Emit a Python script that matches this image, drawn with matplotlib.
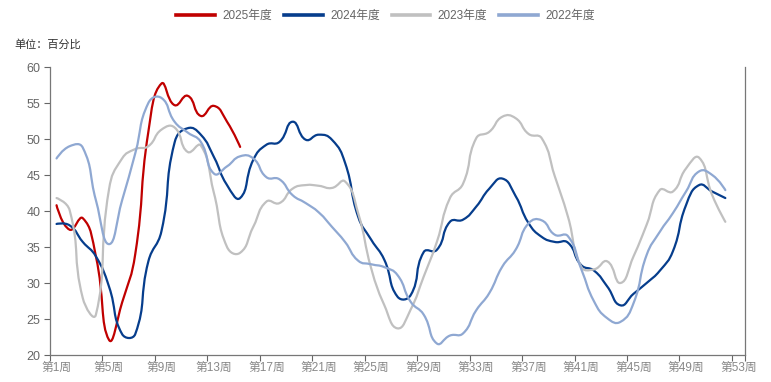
import numpy as np
import matplotlib.pyplot as plt
from matplotlib.path import Path
from matplotlib.patches import PathPatch
from matplotlib.lines import Line2D

FONTS = ["Liberation Sans", "Noto Sans CJK SC", "DejaVu Sans"]
plt.rcParams["font.family"] = FONTS

# semaines 1..53 (catégories)
weeks = [f"第{i}周" for i in range(1, 54)]

y2025 = [40.8, 37.4, 39.0, 33.7, 22.1, 27.3, 34.0, 51.0, 57.7, 54.7,
         56.0, 53.2, 54.6, 52.4, 48.9]
y2024 = [38.2, 38.0, 35.7, 33.7, 29.5, 22.9, 22.9, 33.0, 37.2, 49.5,
         51.5, 50.6, 47.5, 43.6, 41.8, 47.1, 49.2, 49.6, 52.4, 49.9,
         50.6, 49.9, 46.7, 39.2, 36.0, 33.2, 28.1, 28.3, 34.3, 34.6,
         38.5, 38.8, 40.6, 43.1, 44.5, 42.1, 38.3, 36.4, 35.7, 35.6,
         32.5, 31.7, 29.5, 26.9, 28.5, 30.0, 31.7, 34.4, 40.8, 43.6,
         42.7, 41.8]
y2023 = [41.8, 40.1, 27.9, 25.6, 43.0, 47.3, 48.6, 49.0, 51.3, 51.6,
         48.2, 49.1, 42.5, 35.0, 34.2, 37.8, 41.3, 41.1, 43.1, 43.6,
         43.5, 43.2, 44.1, 39.7, 32.0, 26.9, 23.7, 26.3, 30.9, 35.7,
         41.8, 43.8, 50.1, 51.0, 53.1, 52.9, 50.7, 50.1, 44.8, 39.2,
         32.3, 31.9, 33.0, 30.0, 33.7, 38.1, 42.9, 42.7, 45.9, 47.4,
         42.2, 38.5]
y2022 = [47.3, 49.0, 48.8, 41.5, 35.4, 41.5, 48.0, 55.0, 55.7, 52.4,
         50.9, 49.6, 45.2, 46.2, 47.6, 47.3, 44.7, 44.4, 42.2, 41.1,
         39.8, 37.8, 35.7, 33.1, 32.6, 32.2, 31.1, 27.4, 25.6, 21.6,
         22.7, 23.0, 26.2, 28.6, 32.3, 34.6, 38.3, 38.7, 36.7, 36.5,
         32.0, 27.4, 25.1, 24.6, 27.2, 33.9, 37.1, 39.7, 42.7, 45.5,
         45.0, 42.9]

series = [
    ("2025年度", y2025, "#c00000"),
    ("2024年度", y2024, "#063d8c"),
    ("2023年度", y2023, "#c0c0c0"),
    ("2022年度", y2022, "#8fa8d2"),
]

SMOOTH = 0.5


def smooth_path(ax, xs, ys):
    # courbe de Bézier façon "smooth" (calculée en pixels)
    pts = ax.transData.transform(np.column_stack([xs, ys]))
    n = len(pts)
    verts = [pts[0]]
    codes = [Path.MOVETO]
    cp_out = pts[0]
    for i in range(1, n):
        p = pts[i]
        prev = pts[i - 1]
        nxt = pts[i + 1] if i < n - 1 else p
        if i < n - 1:
            v = nxt - prev
            l0 = np.hypot(*(p - prev))
            l1 = np.hypot(*(nxt - p))
            r = l1 / (l0 + l1) if (l0 + l1) > 0 else 0.5
            cp_in = p - v * SMOOTH * (1 - r)
            cp_next = p + v * SMOOTH * r
        else:
            cp_in = p
            cp_next = p
        verts += [cp_out, cp_in, p]
        codes += [Path.CURVE4] * 3
        cp_out = cp_next
    verts = ax.transData.inverted().transform(np.array(verts))
    return Path(verts, codes)


fig = plt.figure(figsize=(7.71, 3.82), dpi=100)
ax = fig.add_axes([50 / 771, 27 / 382, 695 / 771, 288 / 382])

ax.set_xlim(-0.5, 52.5)
ax.set_ylim(20, 60)
ax.set_yticks(range(20, 61, 5))
ax.tick_params(axis="y", colors="#666666", labelsize=9, length=4, width=0.8, pad=3)

# ticks aux limites des catégories, libellés au centre
ax.set_xticks([k - 0.5 for k in range(0, 53, 4)] + [52.5])
ax.set_xticklabels([])
ax.set_xticks(range(0, 53, 4), minor=True)
ax.set_xticklabels([weeks[i] for i in range(0, 53, 4)], minor=True)
ax.tick_params(axis="x", which="major", colors="#666666", length=4, width=0.8)
ax.tick_params(axis="x", which="minor", length=0, labelsize=8.5,
               labelcolor="#888888", pad=5)

for side in ["left", "bottom", "right"]:
    ax.spines[side].set_color("#777777")
    ax.spines[side].set_linewidth(0.9)
ax.spines["top"].set_visible(False)

fig.canvas.draw()
handles = []
for name, vals, color in series:
    xs = np.arange(len(vals))
    path = smooth_path(ax, xs, vals)
    ax.add_patch(PathPatch(path, facecolor="none", edgecolor=color,
                           linewidth=1.6, capstyle="round", joinstyle="round"))
    handles.append(Line2D([], [], color=color, linewidth=2.6, label=name))

fig.legend(handles=handles, loc="center", bbox_to_anchor=(0.5, 1 - 16 / 382),
           ncol=4, frameon=False, fontsize=8.5, handlelength=3.3,
           handletextpad=0.6, columnspacing=1.0, labelcolor="#666666")

fig.text(14 / 771, 1 - 44 / 382, "单位：百分比", fontsize=8, color="#333333",
         va="center", ha="left")

fig.savefig("out.png", dpi=100)
